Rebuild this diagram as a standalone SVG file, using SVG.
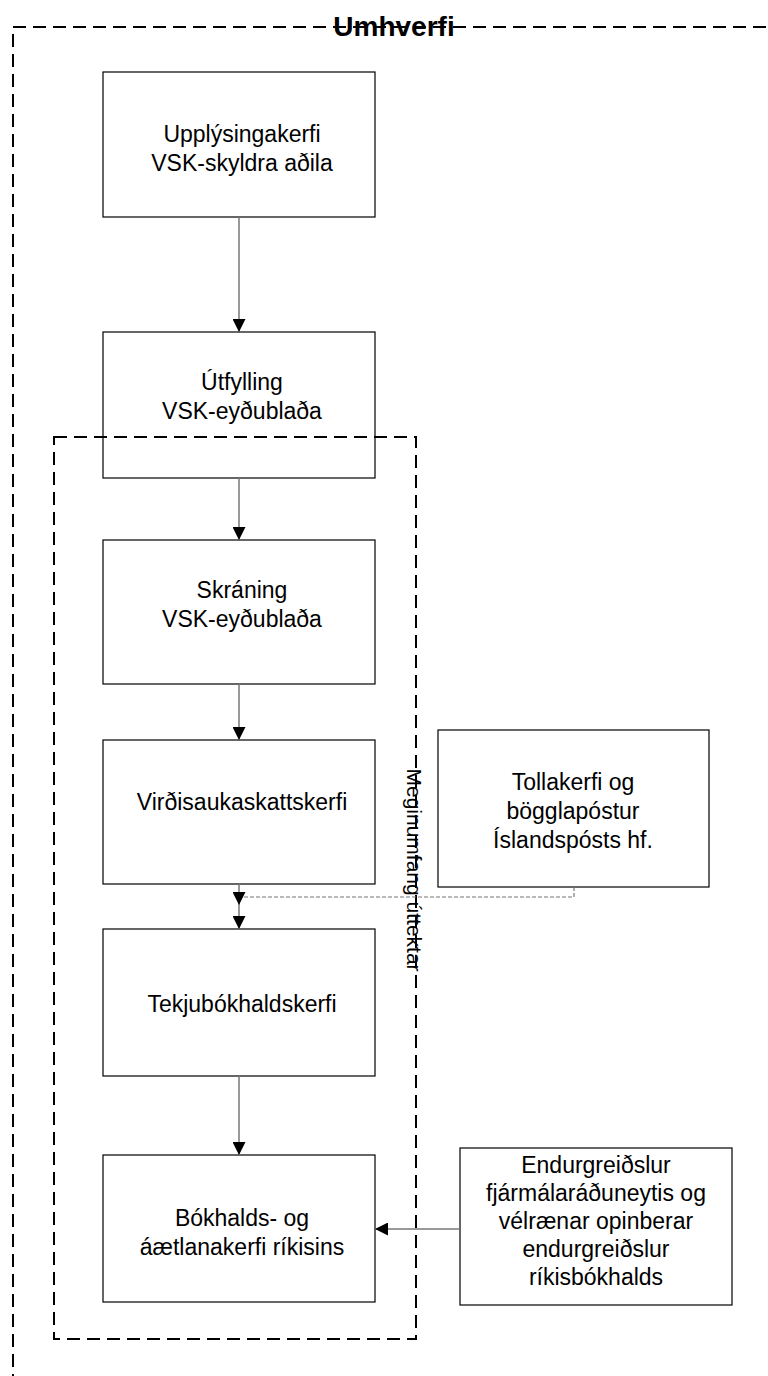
<svg xmlns="http://www.w3.org/2000/svg" width="768" height="1376" viewBox="0 0 768 1376">
<defs>
<marker id="ah" viewBox="0 0 10 10" refX="10" refY="5" markerWidth="13" markerHeight="13" markerUnits="userSpaceOnUse" orient="auto">
<path d="M0,0 L10,5 L0,10 Z" fill="#000"/>
</marker>
<style>
.box{fill:#fff;stroke:#000;stroke-width:1.2}
.t{font-family:"Liberation Sans",Arial,sans-serif;font-size:23px;fill:#000;text-anchor:middle}
.outer{fill:none;stroke:#000;stroke-width:2;stroke-dasharray:13,7}
.conn{fill:none;stroke:#777;stroke-width:1.5}
.dconn{fill:none;stroke:#777;stroke-width:1.2;stroke-dasharray:4,2}
</style>
</defs>
<rect width="768" height="1376" fill="#fff"/>
<g id="umhverfi">
<rect class="outer" x="13" y="27" width="800" height="1400"/>
<text x="394" y="36" style="font-family:'Liberation Sans',Arial,sans-serif;font-size:28px;font-weight:bold;text-anchor:middle">Umhverfi</text>
</g>
<g id="n1"><rect class="box" x="103" y="72" width="272" height="145"/>
<text class="t" x="242" y="142">Upplýsingakerfi</text><text class="t" x="242" y="171">VSK-skyldra aðila</text></g>
<g id="n2"><rect class="box" x="103" y="332" width="272" height="146"/>
<text class="t" x="242" y="390">Útfylling</text><text class="t" x="242" y="419">VSK-eyðublaða</text></g>
<g id="meginumfang">
<rect class="outer" x="54" y="437" width="362" height="902"/>
<text transform="translate(407,870) rotate(90)" style="font-family:'Liberation Sans',Arial,sans-serif;font-size:21px;text-anchor:middle">Meginumfang úttektar</text>
</g>
<g id="n3"><rect class="box" x="103" y="540" width="272" height="144"/>
<text class="t" x="242" y="598">Skráning</text><text class="t" x="242" y="627">VSK-eyðublaða</text></g>
<g id="n4"><rect class="box" x="103" y="740" width="272" height="144"/>
<text class="t" x="242" y="810">Virðisaukaskattskerfi</text></g>
<g id="n5"><rect class="box" x="103" y="929" width="272" height="147"/>
<text class="t" x="242" y="1012">Tekjubókhaldskerfi</text></g>
<g id="n6"><rect class="box" x="103" y="1155" width="272" height="147"/>
<text class="t" x="242" y="1226">Bókhalds- og</text><text class="t" x="242" y="1255">áætlanakerfi ríkisins</text></g>
<g id="n7"><rect class="box" x="438" y="730" width="271" height="157"/>
<text class="t" x="573" y="790">Tollakerfi og</text><text class="t" x="573" y="819">bögglapóstur</text><text class="t" x="573" y="848">Íslandspósts hf.</text></g>
<g id="n8"><rect class="box" x="460" y="1148" width="272" height="157"/>
<text class="t" x="596" y="1173">Endurgreiðslur</text><text class="t" x="596" y="1201">fjármálaráðuneytis og</text><text class="t" x="596" y="1229">vélrænar opinberar</text><text class="t" x="596" y="1257">endurgreiðslur</text><text class="t" x="596" y="1285">ríkisbókhalds</text></g>
<g id="connectors">
<path class="conn" d="M239,217 V332" marker-end="url(#ah)"/>
<path class="conn" d="M239,478 V540" marker-end="url(#ah)"/>
<path class="conn" d="M239,684 V740" marker-end="url(#ah)"/>
<path class="conn" d="M239,884 V929" marker-end="url(#ah)"/>
<path class="dconn" d="M574,887 V897 H239 V905" marker-end="url(#ah)"/>
<path class="conn" d="M239,1076 V1155" marker-end="url(#ah)"/>
<path class="conn" d="M460,1229 H375" marker-end="url(#ah)"/>
</g>
</svg>
